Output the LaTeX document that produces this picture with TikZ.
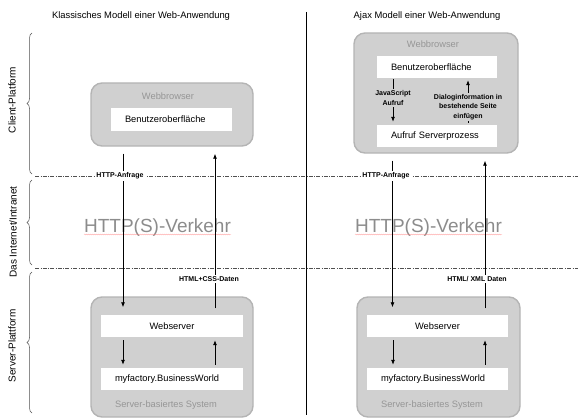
\documentclass[tikz,border=0pt]{standalone}
\usepackage{fontspec}
\setmainfont{Liberation Sans}
\usetikzlibrary{arrows.meta,calc,decorations.pathreplacing,decorations.pathmorphing}
\definecolor{boxgray}{RGB}{208,208,208}
\definecolor{boxedge}{RGB}{180,180,180}
\definecolor{txtgray}{RGB}{150,150,150}
\definecolor{biggray}{RGB}{140,140,140}
\definecolor{sepgray}{RGB}{80,80,80}
\begin{document}
\begin{tikzpicture}[x=1pt,y=-1pt,
  outerbox/.style={draw=boxedge, line width=1.4pt, fill=boxgray, rounded corners=11pt},
  whitebox/.style={fill=white, inner xsep=0pt, inner ysep=0pt, minimum height=22pt, font=\fontsize{9.3}{11}\selectfont},
  leftbox/.style={whitebox, inner xsep=14pt, text width=#1, align=left},
  graytxt/.style={text=txtgray, font=\fontsize{9.3}{11}\selectfont},
  lbl/.style={font=\bfseries\fontsize{7}{9.7}\selectfont, inner sep=1.5pt, align=center},
  arr/.style={-{Latex[length=5pt,width=4pt]}, line width=0.8pt},
  sepline/.style={dash pattern=on 4pt off 1.5pt on 0.6pt off 1.5pt, line width=0.5pt, draw=sepgray},
  bracestyle/.style={decorate, decoration={brace, amplitude=5pt}, line width=0.5pt, draw=sepgray},
  sidelbl/.style={rotate=90, font=\fontsize{10}{12}\selectfont},
  bigtxt/.style={font=\fontsize{19}{22}\selectfont, text=biggray, inner sep=0pt, anchor=base},
  squiggle/.style={draw=red!60, draw opacity=0.6, line width=0.3pt, decorate, decoration={snake, amplitude=0.5pt, segment length=2pt}}
]
\useasboundingbox (0,0) rectangle (587,420);

% titles
\node[font=\fontsize{9.4}{11}\selectfont] (t1) at (141,16) {Klassisches Modell einer Web-Anwendung};
\node[font=\fontsize{9.4}{11}\selectfont] (t2) at (427,16) {Ajax Modell einer Web-Anwendung};

% separator
\coordinate (septop) at (306,12);
\coordinate (sepbot) at (306,415);
\draw[line width=0.7pt] (septop) -- (sepbot);

% braces and side labels
\coordinate (b1a) at (32,174); \coordinate (b1b) at (32,33);
\coordinate (b2a) at (32,265); \coordinate (b2b) at (32,180);
\coordinate (b3a) at (32,413); \coordinate (b3b) at (32,272);
\draw[bracestyle] (b1a) -- (b1b);
\draw[bracestyle] (b2a) -- (b2b);
\draw[bracestyle] (b3a) -- (b3b);
\node[sidelbl] (s1) at (12,100) {Client-Platform};
\node[sidelbl] (s2) at (13,232) {Das Internet/Intranet};
\node[sidelbl] (s3) at (12,346) {Server-Plattform};

% dash-dot lines
\coordinate (d1a) at (35,176); \coordinate (d1b) at (578,176);
\coordinate (d2a) at (35,268); \coordinate (d2b) at (578,268);
\draw[sepline] (d1a) -- (d1b);
\draw[sepline] (d2a) -- (d2b);

% big text
\node[bigtxt] (v1) at (157.5,232) {HTTP(S)-Verkehr};
\node[bigtxt] (v2) at (428.5,232) {HTTP(S)-Verkehr};
\draw[squiggle] ($(v1.base west)+(0,2.5)$) -- ($(v1.base east)+(0,2.5)$);
\draw[squiggle] ($(v2.base west)+(0,2.5)$) -- ($(v2.base east)+(0,2.5)$);

% left side boxes
\node[outerbox, minimum width=162pt, minimum height=63pt] (lb) at (172,114.5) {};
\node[graytxt] (lbt) at (168,96) {Webbrowser};
\node[leftbox=93pt] (lbo) at (171.5,119.5) {Benutzeroberfläche};

\node[outerbox, minimum width=162pt, minimum height=120pt] (ls) at (172,357) {};
\node[whitebox, minimum width=142pt] (lws) at (172,326) {Webserver};
\node[leftbox=114pt] (lmf) at (172,379) {myfactory.BusinessWorld};
\node[graytxt] (lst) at (166,405) {Server-basiertes System};

% right side boxes
\node[outerbox, minimum width=164pt, minimum height=120pt] (rb) at (436,93) {};
\node[graytxt] (rbt) at (433,44) {Webbrowser};
\node[leftbox=92pt] (rbo) at (437,67) {Benutzeroberfläche};
\node[leftbox=92pt] (rau) at (437,136) {Aufruf Serverprozess};

\node[outerbox, minimum width=163pt, minimum height=120pt] (rs) at (438.5,357) {};
\node[whitebox, minimum width=141pt] (rws) at (437.5,326) {Webserver};
\node[leftbox=113pt] (rmf) at (437.5,379) {myfactory.BusinessWorld};
\node[graytxt] (rst) at (432,405) {Server-basiertes System};

% arrow x positions
\coordinate (xl1) at (123,0); \coordinate (xl2) at (215,0);
\coordinate (xr1) at (392.5,0); \coordinate (xr2) at (485,0);
\coordinate (xr3) at (393,0); \coordinate (xr4) at (468,0);

% left arrows
\draw[arr] ($(lb.south -| xl1)+(0,7)$) -- ($(ls.north -| xl1)+(0,11)$);
\draw[arr] ($(ls.north -| xl2)+(0,12)$) -- ($(lb.south -| xl2)+(0,7)$);
\draw[arr] ($(lws.south -| xl1)+(0,3)$) -- ($(lmf.north -| xl1)+(0,-3)$);
\draw[arr] ($(lmf.north -| xl2)+(0,-3)$) -- ($(lws.south -| xl2)+(0,3)$);

% right arrows
\draw[arr] ($(rb.south -| xr1)+(0,7)$) -- ($(rs.north -| xr1)+(0,11)$);
\draw[arr] ($(rs.north -| xr2)+(0,12)$) -- ($(rb.south -| xr2)+(0,7)$);
\draw[arr] ($(rws.south -| xr3)+(0,3)$) -- ($(rmf.north -| xr3)+(0,-3)$);
\draw[arr] ($(rmf.north -| xr2)+(0,-3)$) -- ($(rws.south -| xr2)+(0,3)$);
\draw[arr] ($(rbo.south -| xr3)+(0,1)$) -- ($(rau.north -| xr3)+(0,-3)$);
\draw[arr] ($(rau.north -| xr4)+(0,-2)$) -- ($(rbo.south -| xr4)+(0,2)$);

% labels on connectors
\node[lbl, fill=white] (h1) at (120,176) {HTTP-Anfrage};
\node[lbl, fill=white] (h2) at (386,176) {HTTP-Anfrage};
\node[lbl, fill=white] (c1) at (209,279) {HTML+CSS-Daten};
\node[lbl, fill=white] (c2) at (477,279) {HTML/ XML Daten};
\node[lbl, fill=boxgray] (j1) at (393,98) {JavaScript\\Aufruf};
\node[lbl, fill=boxgray] (j2) at (468,107) {Dialoginformation in\\bestehende Seite\\einfügen};
\end{tikzpicture}
\end{document}
